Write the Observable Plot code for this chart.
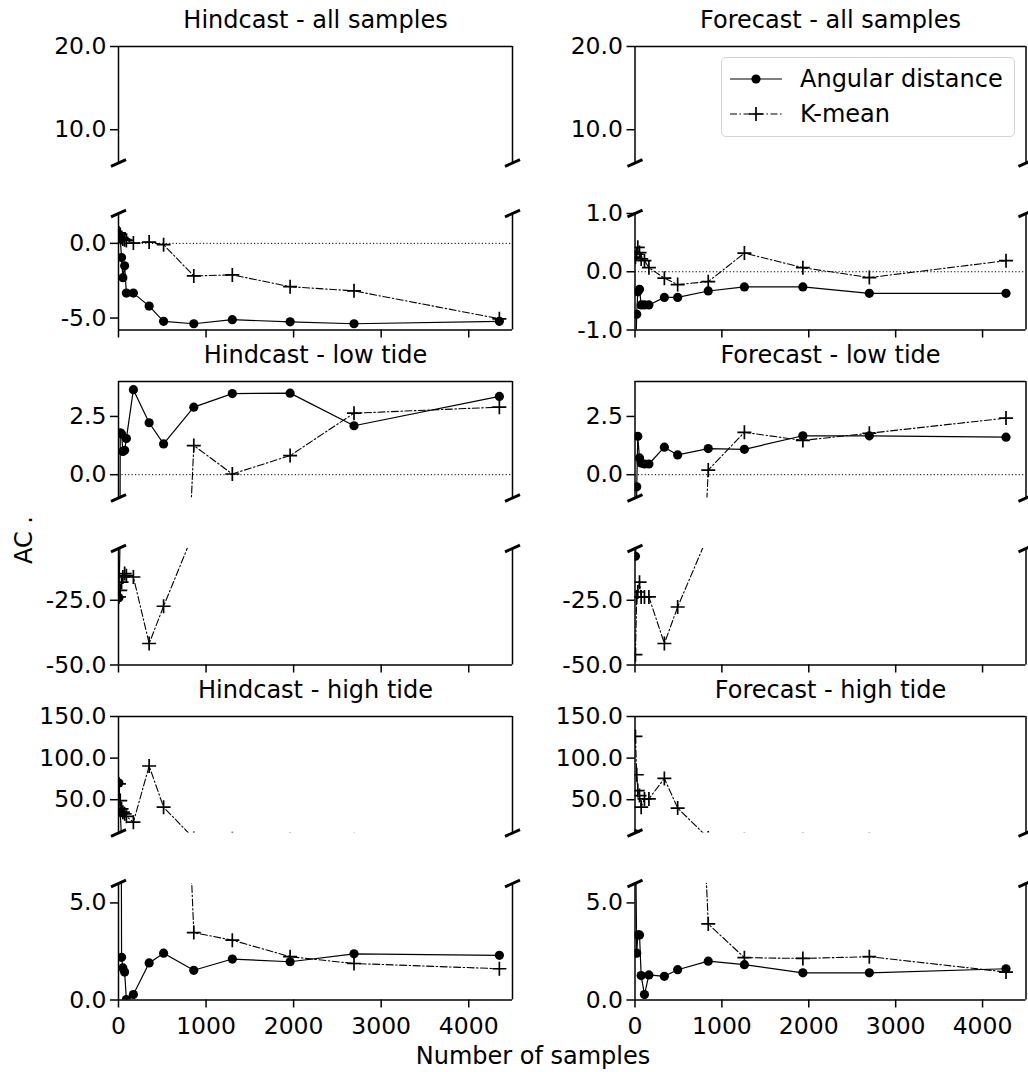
<!DOCTYPE html>
<html><head><meta charset="utf-8">
<script src="https://cdn.jsdelivr.net/npm/d3@7"></script>
<script src="https://cdn.jsdelivr.net/npm/@observablehq/plot@0.6"></script>
<style>
body{margin:0;background:#fff;font-family:"DejaVu Sans",sans-serif;color:#000;}
#fig{position:relative;width:1028px;height:1072px;overflow:hidden;background:#fff;}
#fig > svg{position:absolute;}
#fig svg [aria-label*="axis"] line, #fig svg [aria-label*="axis"] path{stroke-width:1.5px;}
.lbl{position:absolute;font-size:24px;white-space:nowrap;line-height:1;}
#legend{position:absolute;left:721px;top:57px;width:294px;height:80px;border:1.3px solid #d3d3d3;border-radius:5px;background:rgba(255,255,255,0.85);box-sizing:border-box;}
</style></head><body>
<div id="fig"></div>
<script>
// ---------- data ----------
const samplesHind = [5, 20, 35, 50, 70, 90, 170, 350, 515, 860, 1300, 1960, 2690, 4350];
const samplesFore = [5, 20, 32, 52, 71, 109, 160, 338, 491, 843, 1259, 1932, 2697, 4270];

const hindAllAngular = [0.6, 0.3, -0.95, -2.3, -1.5, -3.33, -3.33, -4.2, -5.22, -5.38, -5.11, -5.25, -5.38, -5.22];
const hindAllKmean   = [0.7, 0.6, 0.4, 0.3, 0.25, 0.2, 0.02, 0.09, -0.09, -2.18, -2.11, -2.9, -3.18, -5.05];
const foreAllAngular = [-1.5, -0.73, -0.345, -0.3, -0.57, -0.57, -0.57, -0.44, -0.44, -0.33, -0.26, -0.26, -0.37, -0.37];
const foreAllKmean   = [0.25, 0.3, 0.42, 0.33, 0.22, 0.19, 0.07, -0.11, -0.22, -0.17, 0.32, 0.07, -0.1, 0.19];

const hindLowAngular = [-24, 1.8, 1.75, 1.0, 1.05, 1.55, 3.65, 2.23, 1.32, 2.9, 3.48, 3.5, 2.1, 3.36];
const hindLowKmean   = [-23.7, -21.2, -18, -16, -14.7, -15.5, -16, -41.7, -27.3, 1.25, 0.03, 0.82, 2.64, 2.9];
const foreLowAngular = [-8, -0.52, 1.65, 0.72, 0.5, 0.46, 0.46, 1.18, 0.85, 1.12, 1.09, 1.67, 1.67, 1.61];
const foreLowKmean   = [-46, -23.7, -21.8, -18, -23.7, -23.7, -23.7, -41.7, -27.6, 0.2, 1.82, 1.47, 1.78, 2.43];

const hindHighAngular = [70, 35, 2.2, 1.65, 1.44, 0.02, 0.28, 1.91, 2.41, 1.53, 2.11, 1.97, 2.38, 2.3];
const hindHighKmean   = [69, 49, 39, 35, 33, 30, 23, 90.5, 41, 3.47, 3.08, 2.23, 1.88, 1.61];
const foreHighAngular = [9, 2.41, 3.35, 3.35, 1.26, 0.28, 1.29, 1.22, 1.56, 2.0, 1.82, 1.4, 1.4, 1.61];
const foreHighKmean   = [126, 80, 61, 55, 41, 51, 51, 75.6, 40, 3.92, 2.18, 2.14, 2.23, 1.44];

const xTicks = [0, 1000, 2000, 3000, 4000];
const xDomain = [0, 4500];
const seriesNames = ["Angular distance", "K-mean"];

const rows = [
  {name: "all samples",
   hind: [hindAllAngular, hindAllKmean], fore: [foreAllAngular, foreAllKmean],
   topScale: {hind: {domain: [6, 20], ticks: [10, 20]}, fore: {domain: [6, 20], ticks: [10, 20]}},
   botScale: {hind: {domain: [-5.8, 2], ticks: [-5, 0]}, fore: {domain: [-1, 1], ticks: [-1, 0, 1]}}},
  {name: "low tide",
   hind: [hindLowAngular, hindLowKmean], fore: [foreLowAngular, foreLowKmean],
   topScale: {hind: {domain: [-1, 4], ticks: [0, 2.5]}, fore: {domain: [-1, 4], ticks: [0, 2.5]}},
   botScale: {hind: {domain: [-50, -5], ticks: [-50, -25]}, fore: {domain: [-50, -5], ticks: [-50, -25]}}},
  {name: "high tide",
   hind: [hindHighAngular, hindHighKmean], fore: [foreHighAngular, foreHighKmean],
   topScale: {hind: {domain: [10, 150], ticks: [50, 100, 150]}, fore: {domain: [10, 150], ticks: [50, 100, 150]}},
   botScale: {hind: {domain: [0, 6], ticks: [0, 5]}, fore: {domain: [0, 6], ticks: [0, 5]}}}
];

// ---------- layout ----------
const cols = {
  hind: {left: 0, width: 520, ml: 118, mr: 8, label: "Hindcast", samples: samplesHind},
  fore: {left: 520, width: 508, ml: 114.5, mr: 2.5, label: "Forecast", samples: samplesFore}
};
const PANEL_H = 116.5, FIRST_TOP = 46, PAIR_GAP = 167.4, ROW_PITCH = 334.8;
const MT = 50, MB = 60;

const plusSym = {draw(ctx, size) { const r = Math.sqrt(size / Math.PI);
  ctx.moveTo(-r, 0); ctx.lineTo(r, 0); ctx.moveTo(0, -r); ctx.lineTo(0, r); }};
const breakSym = {draw(ctx, size) { const r = Math.sqrt(size / Math.PI);
  ctx.moveTo(-r, r * 0.45); ctx.lineTo(r, -r * 0.45); }};

const fig = document.getElementById("fig");
const fmtY = d => d.toFixed(1);

function panel(colKey, row, part, top, isLastRow) {
  const col = cols[colKey];
  const [ang, km] = row[colKey];
  const sc = (part === "top" ? row.topScale : row.botScale)[colKey];
  const [y0, y1] = sc.domain;
  const data = col.samples.map((n, i) => ({n, ang: ang[i], km: km[i]}));
  const corners = xDomain.map(n => ({n, y: part === "top" ? y0 : y1}));
  const marks = [
    Plot.ruleY([0], {stroke: "black", strokeWidth: 1, strokeDasharray: "1.2,2.2", clip: true}),
    Plot.line(data, {x: "n", y: "ang", stroke: "black", strokeWidth: 1.2, clip: true}),
    Plot.dot(data, {x: "n", y: "ang", r: 4.6, fill: "black", stroke: "none", clip: true}),
    Plot.line(data, {x: "n", y: "km", stroke: "black", strokeWidth: 1.1, strokeDasharray: "7,2.5,1.5,2.5", clip: true}),
    Plot.dot(data, {x: "n", y: "km", r: 7, symbol: plusSym, fill: "none", stroke: "black", strokeWidth: 1.7, clip: true}),
    Plot.ruleX(xDomain, {stroke: "black", strokeWidth: 1.5}),
    Plot.ruleY([part === "top" ? y1 : y0], {stroke: "black", strokeWidth: 1.5}),
    Plot.dot(corners, {x: "n", y: "y", r: 7.5, symbol: breakSym, fill: "none", stroke: "black", strokeWidth: 2.8})
  ];
  if (part === "top") {
    marks.push(Plot.text([`${col.label} - ${row.name}`], {frameAnchor: "top", text: d => d, dy: -36, fontSize: 24, fill: "black"}));
  }
  const svg = Plot.plot({
    width: col.width, height: PANEL_H + MT + MB,
    marginLeft: col.ml, marginRight: col.mr, marginTop: MT, marginBottom: MB,
    style: {fontSize: "23.5px", fontFamily: "DejaVu Sans", background: "transparent", overflow: "visible", color: "black"},
    x: {domain: xDomain, axis: part === "bottom" ? "bottom" : null, ticks: xTicks,
        tickFormat: isLastRow ? (d => String(d)) : (() => ""), tickSize: 8, tickPadding: 9, label: null},
    y: {domain: sc.domain, ticks: sc.ticks, tickFormat: fmtY, tickSize: 8, tickPadding: 4, label: null},
    marks
  });
  svg.style.left = col.left + "px";
  svg.style.top = (top - MT) + "px";
  fig.appendChild(svg);
}

rows.forEach((row, k) => {
  const topT = FIRST_TOP + ROW_PITCH * k;
  const botT = topT + PAIR_GAP;
  for (const c of ["hind", "fore"]) {
    panel(c, row, "top", topT, false);
    panel(c, row, "bottom", botT, k === rows.length - 1);
  }
});

// ---------- labels ----------
const xl = document.createElement("div");
xl.className = "lbl"; xl.textContent = "Number of samples";
xl.style.left = "533px"; xl.style.top = "1056px"; xl.style.transform = "translate(-50%,-50%)";
fig.appendChild(xl);
const yl = document.createElement("div");
yl.className = "lbl"; yl.textContent = "AC .";
yl.style.left = "24px"; yl.style.top = "540px"; yl.style.transform = "translate(-50%,-50%) rotate(-90deg)";
fig.appendChild(yl);

// ---------- legend ----------
const lg = document.createElement("div");
lg.id = "legend";
const ns = "http://www.w3.org/2000/svg";
const ls = document.createElementNS(ns, "svg");
ls.setAttribute("width", 294); ls.setAttribute("height", 80);
ls.style.position = "absolute"; ls.style.left = "-1px"; ls.style.top = "-1px";
seriesNames.forEach((name, i) => {
  const cy = 22 + i * 35;
  const line = document.createElementNS(ns, "line");
  line.setAttribute("x1", 9); line.setAttribute("x2", 61); line.setAttribute("y1", cy); line.setAttribute("y2", cy);
  line.setAttribute("stroke", "black"); line.setAttribute("stroke-width", i ? 1.1 : 1.2);
  if (i) line.setAttribute("stroke-dasharray", "7,2.5,1.5,2.5");
  ls.appendChild(line);
  if (i === 0) {
    const c = document.createElementNS(ns, "circle");
    c.setAttribute("cx", 35); c.setAttribute("cy", cy); c.setAttribute("r", 4.6); c.setAttribute("fill", "black");
    ls.appendChild(c);
  } else {
    const p = document.createElementNS(ns, "path");
    p.setAttribute("d", `M28,${cy}H42M35,${cy - 7}V${cy + 7}`);
    p.setAttribute("stroke", "black"); p.setAttribute("stroke-width", 1.7); p.setAttribute("fill", "none");
    ls.appendChild(p);
  }
  const t = document.createElementNS(ns, "text");
  t.setAttribute("x", 79); t.setAttribute("y", cy); t.setAttribute("dy", "0.35em");
  t.setAttribute("font-size", 24); t.setAttribute("font-family", "DejaVu Sans");
  t.textContent = name;
  ls.appendChild(t);
});
lg.appendChild(ls);
fig.appendChild(lg);
</script>
</body></html>
